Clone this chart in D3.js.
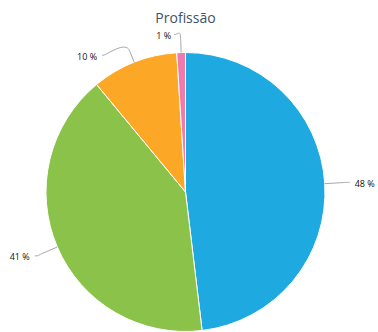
<!DOCTYPE html>
<html><head><meta charset="utf-8">
<script src="https://cdn.jsdelivr.net/npm/d3@7"></script>
<style>body{margin:0;background:#fff}svg{display:block}</style>
</head><body>
<svg id="c" width="378" height="332"></svg>
<script>
const title = "Profissão";
const categories = ["A", "B", "C", "D"];
const values = [48.1, 40.9, 10.0, 1.0];
const labels = ["48 %", "41 %", "10 %", "1 %"];
const colors = ["#1fa9e1", "#8bc34a", "#fca826", "#f07ab0"];

const W = 378, H = 332, cx = 185.5, cy = 192, r = 139.5;
const svg = d3.select("#c");
svg.append("text").attr("x", cx).attr("y", 23).attr("text-anchor", "middle")
  .attr("font-family", "Open Sans, sans-serif").attr("font-size", 14)
  .attr("fill", "#3f5166").text(title);

const data = categories.map((c, i) => ({c, v: values[i], label: labels[i], color: colors[i]}));
const pie = d3.pie().value(d => d.v).sort(null);
const arcs = pie(data);
const arc = d3.arc().innerRadius(0).outerRadius(r);
const g = svg.append("g").attr("transform", `translate(${cx},${cy})`);
g.selectAll("path.s").data(arcs).join("path").attr("class", "s")
  .attr("d", arc).attr("fill", d => d.data.color)
  .attr("stroke", "#fff").attr("stroke-width", 1).attr("stroke-linejoin", "round");

// label layout: polar placement with adjustment for crowded top labels
const labelDist = 30;
const yShift = [1.5, -2, 22, 13];
const xShift = [0, 0, -26, -9];
const pad = [5, 5, 5, 3];
const pol = (a, rad) => [rad * Math.sin(a), -rad * Math.cos(a)];
arcs.forEach((d, i) => {
  const mid = (d.startAngle + d.endAngle) / 2;
  const right = Math.sin(mid) >= 0;
  const touch = pol(mid, r);
  const brk = pol(mid, r + 12);
  let [lx, ly] = pol(mid, r + labelDist);
  lx += xShift[i]; ly += yShift[i];
  const lp = [lx + (right ? -pad[i] : pad[i]), ly - 1];
  const path = `M${lp[0]},${lp[1]} C${lp[0] + (right ? -5 : 5)},${lp[1]} ${2*brk[0]-touch[0]},${2*brk[1]-touch[1]} ${brk[0]},${brk[1]} L${touch[0]},${touch[1]}`;
  g.append("path").attr("d", path).attr("fill", "none").attr("stroke", "#a8a8a8").attr("stroke-width", 1);
  g.append("text").attr("x", lx).attr("y", ly).attr("dy", "0.35em")
    .attr("text-anchor", right ? "start" : "end")
    .attr("font-family", "Open Sans, sans-serif").attr("font-size", 9)
    .attr("fill", "#111").text(d.data.label);
});
</script>
</body></html>
